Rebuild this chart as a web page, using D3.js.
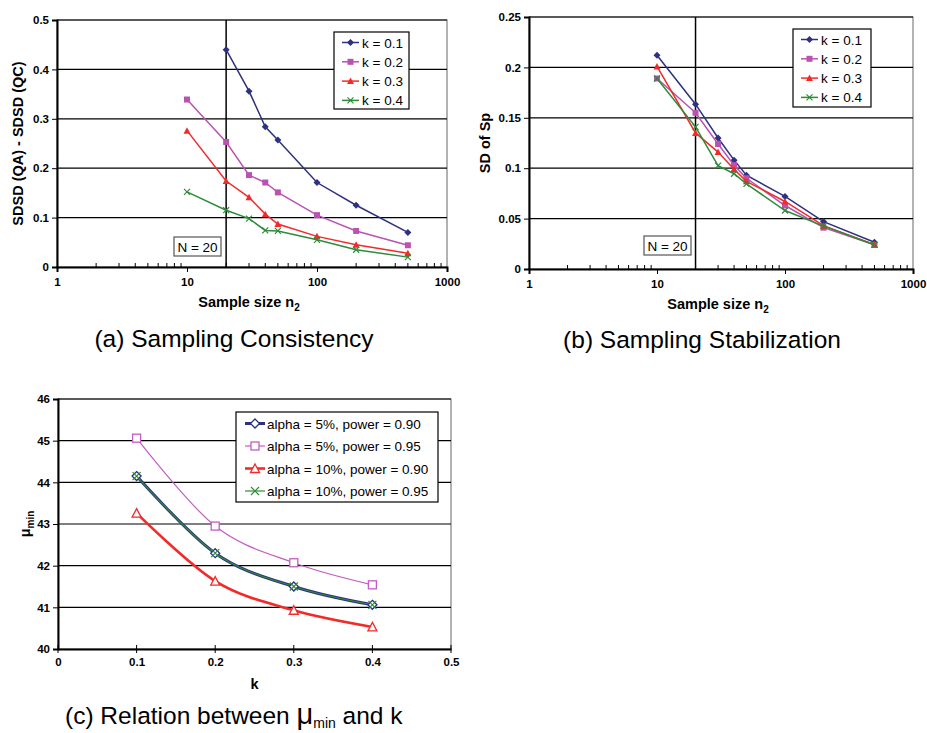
<!DOCTYPE html>
<html><head><meta charset="utf-8">
<script src="https://cdn.jsdelivr.net/npm/d3@7"></script>
<style>
html,body{margin:0;padding:0;background:#fff;}
svg{display:block;font-family:"Liberation Sans",Arial,sans-serif;}
</style></head>
<body><svg id="c" width="927" height="733"></svg>
<script>
// ---------- DATA ----------
const sampleSizes = [10, 20, 30, 40, 50, 100, 200, 500];
const kLabels = ["k = 0.1", "k = 0.2", "k = 0.3", "k = 0.4"];
// (a) SDSD(QA) - SDSD(QC)
const consK1 = [null, 0.440, 0.356, 0.284, 0.257, 0.171, 0.125, 0.070];
const consK2 = [0.339, 0.253, 0.186, 0.171, 0.151, 0.105, 0.073, 0.044];
const consK3 = [0.276, 0.174, 0.141, 0.107, 0.087, 0.062, 0.045, 0.028];
const consK4 = [0.152, 0.115, 0.098, 0.074, 0.073, 0.055, 0.035, 0.020];
// (b) SD of Sp
const stabK1 = [0.212, 0.1635, 0.130, 0.108, 0.093, 0.072, 0.047, 0.0265];
const stabK2 = [0.189, 0.155, 0.124, 0.103, 0.090, 0.063, 0.041, 0.024];
const stabK3 = [0.201, 0.135, 0.116, 0.099, 0.087, 0.067, 0.043, 0.024];
const stabK4 = [0.189, 0.141, 0.1025, 0.0945, 0.0845, 0.058, 0.0425, 0.024];
// (c) mu_min vs k
const kValues = [0.1, 0.2, 0.3, 0.4];
const muLabels = ["alpha = 5%, power = 0.90", "alpha = 5%, power = 0.95", "alpha = 10%, power = 0.90", "alpha = 10%, power = 0.95"];
const muA5P90 = [44.15, 42.30, 41.50, 41.06];
const muA5P95 = [45.06, 42.95, 42.07, 41.54];
const muA10P90 = [43.26, 41.63, 40.93, 40.53];
const muA10P95 = [44.15, 42.30, 41.50, 41.06];
const logTicks = [1, 10, 100, 1000];
const consTicks = [0, 0.1, 0.2, 0.3, 0.4, 0.5];
const stabTicks = [0, 0.05, 0.1, 0.15, 0.2, 0.25];
const muTicks = [40, 41, 42, 43, 44, 45, 46];
const kTicks = [0, 0.1, 0.2, 0.3, 0.4, 0.5];

// ---------- STYLE ----------
const cNavy = "#2e3180", cPink = "#b953b3", cRed = "#f22a2a", cGreen = "#2e8b3a";
const svg = d3.select("#c");
svg.append("rect").attr("width", 927).attr("height", 733).attr("fill", "#fff");

function marker(g, type, x, y, color, size, open) {
  const s = size / 2;
  let el;
  if (type === "diamond") {
    el = g.append("path").attr("d", `M${x},${y - s - 0.5}L${x + s + 0.5},${y}L${x},${y + s + 0.5}L${x - s - 0.5},${y}Z`);
  } else if (type === "square") {
    el = g.append("rect").attr("x", x - s).attr("y", y - s).attr("width", size).attr("height", size);
  } else if (type === "triangle") {
    el = g.append("path").attr("d", `M${x},${y - s - 0.5}L${x + s + 0.5},${y + s}L${x - s - 0.5},${y + s}Z`);
  } else if (type === "x") {
    g.append("path").attr("d", `M${x - s},${y - s}L${x + s},${y + s}M${x - s},${y + s}L${x + s},${y - s}`)
      .attr("stroke", color).attr("stroke-width", 1.2).attr("fill", "none");
    return;
  }
  if (open) el.attr("fill", "#fff").attr("stroke", color).attr("stroke-width", 1.3);
  else el.attr("fill", color).attr("stroke", "none");
}

function frame(g, x0, x1, y0, y1, yScale, yTicks, yFmt) {
  g.append("rect").attr("x", x0).attr("y", y0).attr("width", x1 - x0).attr("height", y1 - y0)
    .attr("fill", "#fff").attr("stroke", "#666").attr("stroke-width", 1);
  yTicks.forEach(t => {
    if (t === yTicks[0]) return;
    g.append("line").attr("x1", x0).attr("x2", x1).attr("y1", yScale(t)).attr("y2", yScale(t))
      .attr("stroke", "#000").attr("stroke-width", 1.2);
  });
  const ya = g.append("g").attr("transform", `translate(${x0},0)`)
    .call(d3.axisLeft(yScale).tickValues(yTicks).tickFormat(yFmt).tickSize(5).tickPadding(3));
  ya.select(".domain").attr("stroke", "#000").attr("stroke-width", 2);
  ya.selectAll("text").attr("font-size", 11.5).attr("font-weight", "bold").attr("fill", "#000");
}

function logChart(opts) {
  const g = svg.append("g");
  const {x0, x1, y0, y1} = opts;
  const x = d3.scaleLog().domain([1, 1000]).range([x0, x1]);
  const y = d3.scaleLinear().domain(opts.yDomain).range([y1, y0]);
  frame(g, x0, x1, y0, y1, y, opts.yTicks, opts.yFmt);
  g.append("line").attr("x1", x(20)).attr("x2", x(20)).attr("y1", y0).attr("y2", y1)
    .attr("stroke", "#000").attr("stroke-width", 1.5);
  const xa = g.append("g").attr("transform", `translate(0,${y1})`)
    .call(d3.axisBottom(x).tickValues(logTicks).tickFormat(d3.format("d")).tickSize(5).tickPadding(6));
  xa.select(".domain").attr("stroke", "#000").attr("stroke-width", 2);
  xa.selectAll("text").attr("font-size", 11.5).attr("font-weight", "bold").attr("fill", "#000");
  const minors = [];
  [1, 10, 100].forEach(d => { for (let i = 2; i <= 9; i++) minors.push(d * i); });
  g.selectAll(null).data(minors).enter().append("line")
    .attr("x1", d => x(d)).attr("x2", d => x(d)).attr("y1", y1).attr("y2", y1 - 4)
    .attr("stroke", "#000").attr("stroke-width", 1);
  const types = ["diamond", "square", "triangle", "x"];
  const colors = [cNavy, cPink, cRed, cGreen];
  opts.series.forEach((vals, i) => {
    const pts = sampleSizes.map((n, j) => [n, vals[j]]).filter(p => p[1] !== null);
    g.append("path").datum(pts)
      .attr("d", d3.line().x(p => x(p[0])).y(p => y(p[1])))
      .attr("fill", "none").attr("stroke", colors[i]).attr("stroke-width", 1.5);
    pts.forEach(p => marker(g, types[i], x(p[0]), y(p[1]), colors[i], 6, false));
  });
  const L = opts.legend;
  g.append("rect").attr("x", L.x).attr("y", L.y).attr("width", L.w).attr("height", L.h)
    .attr("fill", "#fff").attr("stroke", "#000").attr("stroke-width", 1.2);
  kLabels.forEach((lab, i) => {
    const ly = L.y + 10.5 + i * 19.3;
    g.append("line").attr("x1", L.x + 8).attr("x2", L.x + 25).attr("y1", ly).attr("y2", ly)
      .attr("stroke", colors[i]).attr("stroke-width", 1.5);
    marker(g, types[i], L.x + 16.5, ly, colors[i], 6, false);
    g.append("text").attr("x", L.x + 28).attr("y", ly + 5).attr("font-size", 13.5).text(lab);
  });
  g.append("rect").attr("x", opts.nBox[0]).attr("y", opts.nBox[1]).attr("width", 47).attr("height", 19)
    .attr("fill", "#fff").attr("stroke", "#555").attr("stroke-width", 1.2);
  g.append("text").attr("x", opts.nBox[0] + 23.5).attr("y", opts.nBox[1] + 14.5)
    .attr("text-anchor", "middle").attr("font-size", 13.5).text("N = 20");
  const xt = g.append("text").attr("x", (x0 + x1) / 2 - 3).attr("y", y1 + 40)
    .attr("text-anchor", "middle").attr("font-size", 14.5).attr("font-weight", "bold");
  xt.append("tspan").text("Sample size n");
  xt.append("tspan").attr("font-size", 10).attr("dy", 4).text("2");
  g.append("text").attr("transform", `translate(${opts.yTitleX},${(y0 + y1) / 2}) rotate(-90)`)
    .attr("text-anchor", "middle").attr("font-size", 14.5).attr("font-weight", "bold").text(opts.yTitle);
  svg.append("text").attr("x", opts.capX).attr("y", opts.capY).attr("text-anchor", "middle")
    .attr("font-size", 24.5).text(opts.caption);
}

logChart({
  x0: 57, x1: 447, y0: 20, y1: 267, yDomain: [0, 0.5], yTicks: consTicks, yFmt: d3.format(""),
  series: [consK1, consK2, consK3, consK4],
  legend: {x: 334, y: 32, w: 75, h: 77}, nBox: [174, 237],
  yTitle: "SDSD (QA) - SDSD (QC)", yTitleX: 23,
  caption: "(a) Sampling Consistency", capX: 234, capY: 347
});
logChart({
  x0: 529, x1: 913, y0: 17, y1: 269, yDomain: [0, 0.25], yTicks: stabTicks, yFmt: d3.format(""),
  series: [stabK1, stabK2, stabK3, stabK4],
  legend: {x: 793, y: 29, w: 78, h: 78}, nBox: [644, 236],
  yTitle: "SD of Sp", yTitleX: 490,
  caption: "(b) Sampling Stabilization", capX: 702, capY: 348
});

// ---------- (c) ----------
(function () {
  const g = svg.append("g");
  const x0 = 58, x1 = 451, y0 = 399, y1 = 649;
  const x = d3.scaleLinear().domain([0, 0.5]).range([x0, x1]);
  const y = d3.scaleLinear().domain([40, 46]).range([y1, y0]);
  frame(g, x0, x1, y0, y1, y, muTicks, d3.format("d"));
  const xa = g.append("g").attr("transform", `translate(0,${y1})`)
    .call(d3.axisBottom(x).tickValues(kTicks).tickFormat(d3.format("")).tickSizeInner(0).tickSizeOuter(0).tickPadding(9));
  xa.select(".domain").attr("stroke", "#000").attr("stroke-width", 2);
  xa.selectAll("text").attr("font-size", 11.5).attr("font-weight", "bold").attr("fill", "#000");
  g.selectAll(null).data(kTicks).enter().append("line")
    .attr("x1", d => x(d)).attr("x2", d => x(d)).attr("y1", y1 - 4).attr("y2", y1 + 4)
    .attr("stroke", "#000").attr("stroke-width", 1);

  const series = [muA5P90, muA5P95, muA10P90, muA10P95];
  const colors = [cNavy, "#c25ec0", cRed, cGreen];
  const widths = [3, 1.2, 2.6, 1.2];
  const types = ["diamond", "square", "triangle", "x"];
  const line = d3.line().x(p => x(p[0])).y(p => y(p[1])).curve(d3.curveCatmullRom.alpha(0));
  series.forEach((vals, i) => {
    const pts = kValues.map((k, j) => [k, vals[j]]);
    g.append("path").datum(pts).attr("d", line).attr("fill", "none")
      .attr("stroke", colors[i]).attr("stroke-width", widths[i]);
  });
  series.forEach((vals, i) => {
    kValues.forEach((k, j) => marker(g, types[i], x(k), y(vals[j]), colors[i], 8, true));
  });
  const L = {x: 236, y: 412, w: 202, h: 90};
  g.append("rect").attr("x", L.x).attr("y", L.y).attr("width", L.w).attr("height", L.h)
    .attr("fill", "#fff").attr("stroke", "#000").attr("stroke-width", 1.2);
  muLabels.forEach((lab, i) => {
    const ly = L.y + 11.5 + i * 22.5;
    g.append("line").attr("x1", L.x + 9).attr("x2", L.x + 29).attr("y1", ly).attr("y2", ly)
      .attr("stroke", colors[i]).attr("stroke-width", widths[i]);
    marker(g, types[i], L.x + 19, ly, colors[i], 8, true);
    g.append("text").attr("x", L.x + 31).attr("y", ly + 5).attr("font-size", 13.5).text(lab);
  });
  g.append("text").attr("x", (x0 + x1) / 2).attr("y", y1 + 40).attr("text-anchor", "middle")
    .attr("font-size", 14.5).attr("font-weight", "bold").text("k");
  const yt = g.append("text").attr("transform", `translate(30,${(y0 + y1) / 2}) rotate(-90)`)
    .attr("text-anchor", "middle").attr("font-size", 14.5).attr("font-weight", "bold");
  yt.append("tspan").text("\u03bc");
  yt.append("tspan").attr("font-size", 10).attr("dy", 4).text("min");
  const cap = svg.append("text").attr("x", 65).attr("y", 724).attr("font-size", 24.5);
  cap.append("tspan").text("(c) Relation between ");
  cap.append("tspan").attr("font-size", 29).text("\u03bc");
  cap.append("tspan").attr("font-size", 14).attr("dy", 3.5).text("min");
  cap.append("tspan").attr("dy", -3.5).text(" and k");
})();
</script></body></html>
